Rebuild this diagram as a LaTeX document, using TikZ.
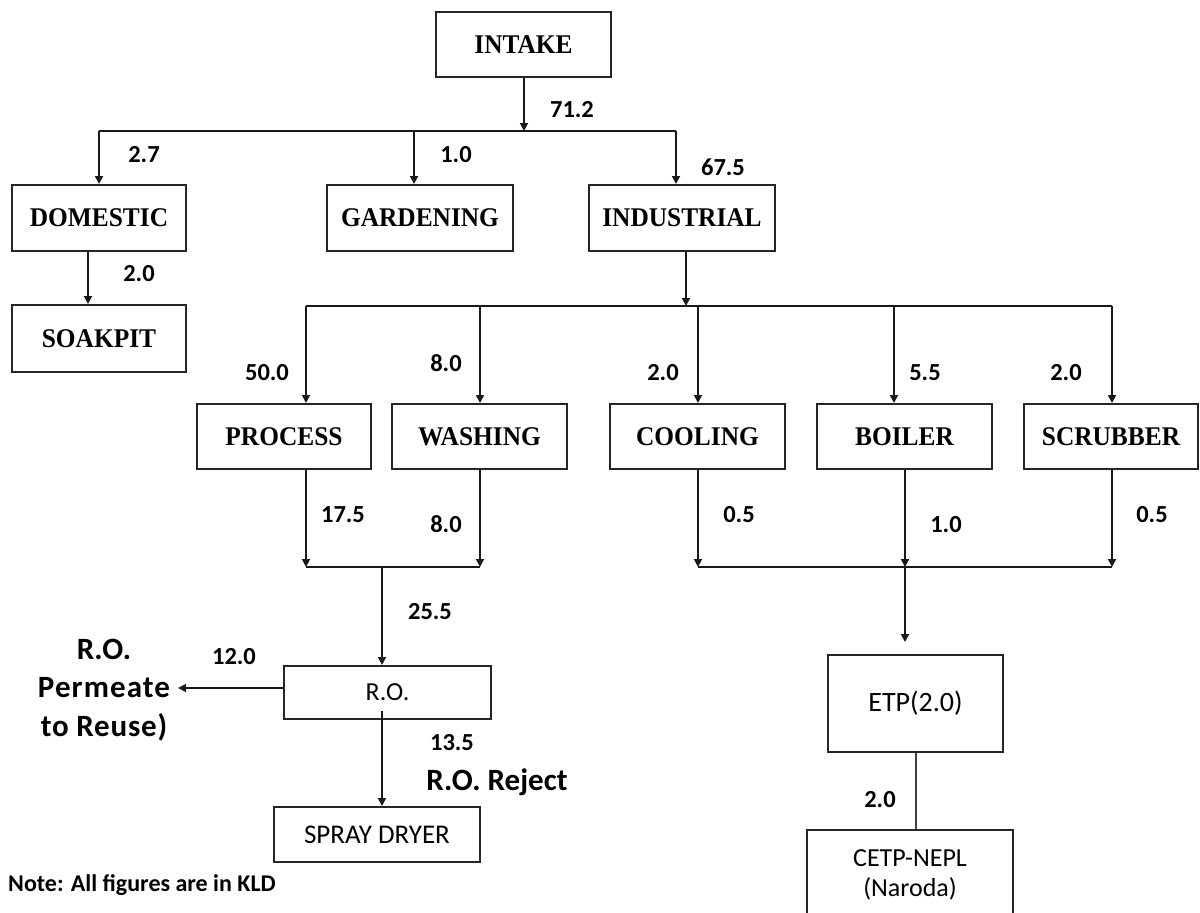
\documentclass[tikz,border=0pt]{standalone}
\usepackage{fontspec}
\setmainfont{Liberation Serif}
\newfontfamily\bxf[FakeStretch=0.94]{Liberation Serif}
\newfontfamily\cf{Carlito}
\usetikzlibrary{arrows.meta}
\tikzset{
  box/.style={draw=black!85, line width=2pt, inner sep=0pt, font=\bxf\fontsize{27}{30}\selectfont\bfseries},
  cbox/.style={draw=black!85, line width=2pt, inner sep=0pt, font=\cf\fontsize{26}{30}\selectfont, align=center},
  num/.style={inner sep=0pt, font=\cf\bfseries\fontsize{24.5}{28}\selectfont},
  big/.style={inner sep=0pt, font=\cf\bfseries\fontsize{31}{38.5}\selectfont, align=center},
  ln/.style={draw=black!90, line width=1.8pt},
  arr/.style={ln, -{Triangle[length=8pt,width=8pt]}}
}
\begin{document}
\begin{tikzpicture}[x=1pt,y=-1pt]
\useasboundingbox (0,0) rectangle (1200,913);
\clip (0,0) rectangle (1200,913);
% boxes
\node[box, minimum width=175pt, minimum height=65pt] (intake) at (523.5,44.5) {INTAKE};
\node[box, minimum width=174pt, minimum height=66pt] (domestic) at (99,218) {DOMESTIC};
\node[box, minimum width=186pt, minimum height=66pt] (gardening) at (420,218) {GARDENING};
\node[box, minimum width=186pt, minimum height=66pt] (industrial) at (682,218) {INDUSTRIAL};
\node[box, minimum width=174pt, minimum height=67pt] (soakpit) at (99,338.5) {SOAKPIT};
\node[box, minimum width=174pt, minimum height=65pt] (process) at (284,436.5) {PROCESS};
\node[box, minimum width=175pt, minimum height=65pt] (washing) at (479.5,436.5) {WASHING};
\node[box, minimum width=175pt, minimum height=65pt] (cooling) at (697.5,436.5) {COOLING};
\node[box, minimum width=175pt, minimum height=65pt] (boiler) at (904.5,436.5) {BOILER};
\node[box, minimum width=174pt, minimum height=65pt] (scrubber) at (1111,436.5) {SCRUBBER};
\node[cbox, minimum width=207pt, minimum height=53pt] (ro) at (387.5,692.5) {R.O.};
\node[cbox, font=\cf\fontsize{27}{30}\selectfont, minimum width=206pt, minimum height=55pt] (spray) at (377,834.5) {SPRAY DRYER};
\node[cbox, font=\cf\fontsize{28}{30}\selectfont, minimum width=175pt, minimum height=97pt] (etp) at (915.5,703.5) {ETP(2.0)};
\node[cbox, minimum width=206pt, minimum height=90pt] (cetp) at (910,875) {CETP-NEPL\\(Naroda)};
% junction coordinates
\coordinate (j1) at (524,131);
\coordinate (j1l) at (99,131);
\coordinate (j1m) at (414,131);
\coordinate (j1r) at (676,131);
\coordinate (j2) at (686,306);
\coordinate (j2a) at (306,306);
\coordinate (j2b) at (480,306);
\coordinate (j2c) at (698,306);
\coordinate (j2d) at (894,306);
\coordinate (j2e) at (1112,306);
\coordinate (j3a) at (306,567);
\coordinate (j3b) at (480,567);
\coordinate (j3m) at (382,567);
\coordinate (j4a) at (698,567);
\coordinate (j4b) at (905,567);
\coordinate (j4c) at (1112,567);
\coordinate (roin) at (382,711);
\coordinate (permtip) at (178,688);
\coordinate (dsoak) at (88,251);
% connectors
\draw[arr] (intake.south -| j1) -- (j1);
\draw[ln] (j1l) -- (j1r);
\draw[arr] (j1l) -- (j1l |- domestic.north);
\draw[arr] (j1m) -- (j1m |- gardening.north);
\draw[arr] (j1r) -- (j1r |- industrial.north);
\draw[arr] (domestic.south -| dsoak) -- (dsoak |- soakpit.north);
\draw[arr] (industrial.south -| j2) -- (j2);
\draw[ln] (j2a) -- (j2e);
\draw[arr] (j2a) -- (j2a |- process.north);
\draw[arr] (j2b) -- (j2b |- washing.north);
\draw[arr] (j2c) -- (j2c |- cooling.north);
\draw[arr] (j2d) -- (j2d |- boiler.north);
\draw[arr] (j2e) -- (j2e |- scrubber.north);
\draw[arr] (process.south -| j3a) -- (j3a);
\draw[arr] (washing.south -| j3b) -- (j3b);
\draw[ln] (j3a) -- (j3b);
\draw[arr] (j3m) -- (j3m |- ro.north);
\draw[arr] (cooling.south -| j4a) -- (j4a);
\draw[arr] (boiler.south -| j4b) -- (j4b);
\draw[arr] (scrubber.south -| j4c) -- (j4c);
\draw[ln] (j4a) -- (j4c);
\draw[arr, shorten >=12pt] (j4b) -- (j4b |- etp.north);
\draw[ln, draw=black!75, line width=2pt] (etp.south) -- (etp.south |- cetp.north);
\draw[arr] (ro.west |- permtip) -- (permtip);
\draw[arr] (roin) -- (roin |- spray.north);
% labels
\node[num] (l712) at (572,110) {71.2};
\node[num] (l27) at (144,155) {2.7};
\node[num] (l10a) at (456,155) {1.0};
\node[num] (l675) at (723,167) {67.5};
\node[num] (l20a) at (139,274) {2.0};
\node[num] (l500) at (267,373) {50.0};
\node[num] (l80a) at (446,363) {8.0};
\node[num] (l20b) at (663,373) {2.0};
\node[num] (l55) at (925,373) {5.5};
\node[num] (l20c) at (1066,373) {2.0};
\node[num] (l175) at (343,515) {17.5};
\node[num] (l80b) at (446,524) {8.0};
\node[num] (l05a) at (739,515) {0.5};
\node[num] (l10b) at (946,525) {1.0};
\node[num] (l05b) at (1152,515) {0.5};
\node[num] (l255) at (430,612) {25.5};
\node[num] (l120) at (234,657) {12.0};
\node[num] (l135) at (452,743) {13.5};
\node[num] (l20d) at (880,800) {2.0};
\node[big] (perm) at (104,690) {R.O.\\{\addfontfeature{LetterSpace=3.5}Permeate}\\{\addfontfeature{LetterSpace=2.5}to Reuse)}};
\node[big] (reject) at (497,782) {R.O. Reject};
\node[num, anchor=west, font=\cf\bfseries\fontsize{24}{28}\selectfont] (note) at (8,885) {Note: All figures are in KLD};
\end{tikzpicture}
\end{document}
